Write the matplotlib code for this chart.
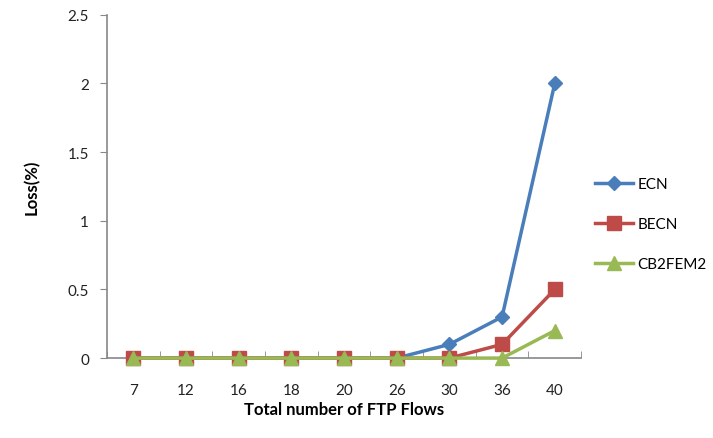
import matplotlib
matplotlib.use('Agg')
import matplotlib.pyplot as plt
import numpy as np

# flows on x axis (categorical)
flows = ['7', '12', '16', '18', '20', '26', '30', '36', '40']
ecn = [0, 0, 0, 0, 0, 0, 0.1, 0.3, 2.0]
becn = [0, 0, 0, 0, 0, 0, 0, 0.1, 0.5]
cb2fem2 = [0, 0, 0, 0, 0, 0, 0, 0, 0.2]

plt.rcParams['font.family'] = ['Lato', 'DejaVu Sans']

fig = plt.figure(figsize=(7.13, 4.39), dpi=100)
ax = fig.add_axes([0.150, 0.182, 0.665, 0.782])

x = np.arange(len(flows))
ax.plot(x, ecn, color='#4A7EBB', lw=2.5, marker='D', ms=7.5, label='ECN', zorder=3, clip_on=False)
ax.plot(x, becn, color='#BE4B48', lw=2.5, marker='s', ms=10, label='BECN', zorder=4, clip_on=False)
ax.plot(x, cb2fem2, color='#98B954', lw=2.5, marker='^', ms=10, label='CB2FEM2', zorder=5, clip_on=False)

ax.set_xlim(-0.5, len(flows) - 0.5)
ax.set_ylim(0, 2.5)
ax.set_yticks([0, 0.5, 1, 1.5, 2, 2.5])
ax.set_yticklabels(['0', '0.5', '1', '1.5', '2', '2.5'])
ax.set_xticks(x)
ax.set_xticklabels(flows)
ax.set_xticks(np.arange(-0.5, len(flows)), minor=True)
ax.tick_params(axis='x', which='major', length=0, pad=18, labelsize=11)
ax.tick_params(axis='x', which='minor', length=5, direction='in', color='#888888')
ax.tick_params(axis='y', length=5, direction='out', color='#888888', labelsize=11, pad=8)

for s in ['top', 'right']:
    ax.spines[s].set_visible(False)
for s in ['left', 'bottom']:
    ax.spines[s].set_color('#888888')
    ax.spines[s].set_linewidth(1.2)
ax.spines['bottom'].set_zorder(2)

ax.set_xlabel('Total number of FTP Flows', fontsize=12, fontweight='bold', labelpad=3)
ax.set_ylabel('Loss(%)', fontsize=12, fontweight='bold', labelpad=20)

ax.legend(loc='center left', bbox_to_anchor=(1.0, 0.39), frameon=False,
          fontsize=11, labelspacing=1.7, handlelength=2.5, handletextpad=0.3)

for lbl in ax.get_xticklabels() + ax.get_yticklabels():
    lbl.set_color('#222222')

fig.savefig('out.png', dpi=100)
